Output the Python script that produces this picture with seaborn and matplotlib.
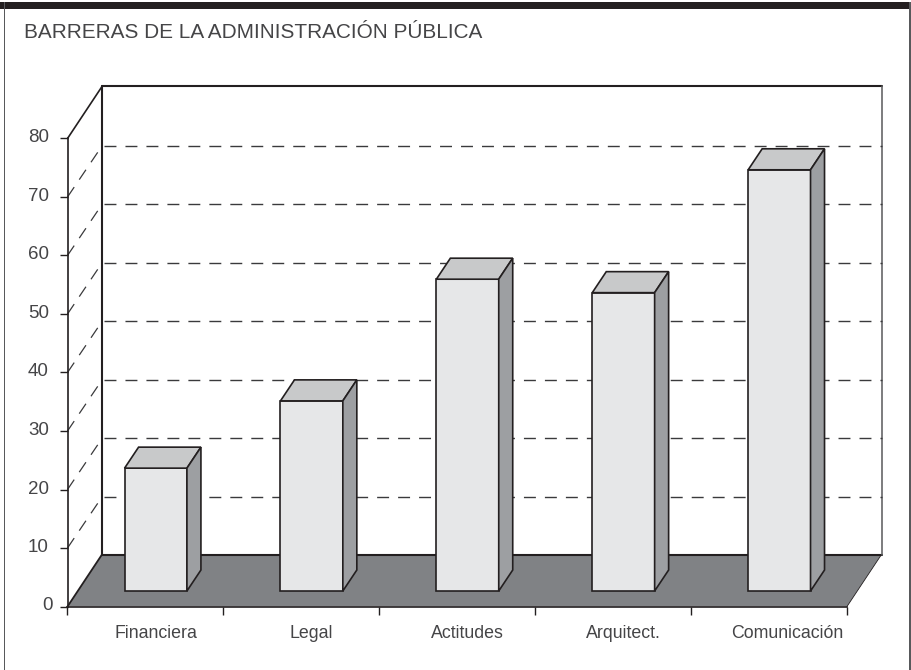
import matplotlib
matplotlib.use('Agg')
import matplotlib.pyplot as plt
import numpy as np
import pandas as pd
import seaborn as sns
from matplotlib.patches import Polygon, Rectangle
from matplotlib.transforms import ScaledTranslation

categories = ['Financiera', 'Legal', 'Actitudes', 'Arquitect.', 'Comunicación']
values = [21, 32.5, 53.3, 51, 72]
y_ticks = [0, 10, 20, 30, 40, 50, 60, 70, 80]
grid_values = [10, 20, 30, 40, 50, 60, 70]
title = 'BARRERAS DE LA ADMINISTRACIÓN PÚBLICA'

W, H = 911, 670
TEXT = '#454547'
EDGE = '#231f20'
DASH = (8.6, 6.5)

sns.set_theme(style='white')
plt.rcParams['font.family'] = ['Liberation Sans', 'DejaVu Sans']
plt.rcParams['lines.scale_dashes'] = False

fig = plt.figure(figsize=(W / 100, H / 100), dpi=100, facecolor='white')

# outer frame
fig.add_artist(Rectangle((0, 1 - 9 / H), 1, 7 / H, transform=fig.transFigure, color='#231f20', lw=0))
fig.add_artist(Rectangle((3.5 / W, 0), 1.5 / W, 1 - 2 / H, transform=fig.transFigure, color='#58595b', lw=0))
fig.add_artist(Rectangle((908.5 / W, 0), 2.5 / W, 1 - 2 / H, transform=fig.transFigure, color='#58595b', lw=0))
fig.text(24 / W, 1 - 33 / H, title, fontsize=14.95, color=TEXT, va='center', ha='left')

# front plane of the box
ax = fig.add_axes([67.5 / W, 1 - 606.5 / H, 779.5 / W, 468 / H])
df = pd.DataFrame({'cat': categories, 'val': values})
sns.barplot(data=df, x='cat', y='val', ax=ax, width=0.4, color='#e6e7e8', saturation=1,
            edgecolor=EDGE, linewidth=1.2, zorder=5)
ax.set_xlim(-0.5, 4.5)
ax.set_ylim(0, 80)
ax.patch.set_visible(False)
ax.set_xlabel('')
ax.set_ylabel('')

# depth of the box and of the bars, in data units
px_x = 5 / 779.5
px_y = 80 / 468
dx, dy = 34.5 * px_x, 52 * px_y
grid_dy = 51 * px_y
bar_dx, bar_dy = 14 * px_x, 21 * px_y
shift_x, shift_y = 10.3 * px_x, 15.5 * px_y

# floor and walls
ax.add_patch(Polygon([(-0.5, 0), (4.5, 0), (4.5 + dx, dy), (-0.5 + dx, dy)], closed=True,
                     facecolor='#808285', edgecolor='none', clip_on=False, zorder=1))
ax.plot([-0.5, -0.5 + dx], [0, dy], color=EDGE, lw=1.3, clip_on=False, zorder=2)
ax.plot([4.5, 4.5 + dx], [0, dy], color=EDGE, lw=0.6, clip_on=False, zorder=2)
ax.plot([-0.5 + dx, 4.5 + dx], [dy, dy], color=EDGE, lw=1.5, clip_on=False, zorder=2)
ax.plot([-0.5, -0.5 + dx], [80, 80 + dy], color=EDGE, lw=1.2, clip_on=False, zorder=2)
ax.plot([-0.5 + dx, 4.5 + dx], [80 + dy, 80 + dy], color=EDGE, lw=1.5, clip_on=False, zorder=2)
ax.plot([-0.5 + dx, -0.5 + dx], [dy, 80 + dy], color=EDGE, lw=1.5, clip_on=False, zorder=2)
ax.plot([4.5 + dx, 4.5 + dx], [dy, 80 + dy], color='#58595b', lw=1.1, clip_on=False, zorder=2)

# dashed grid on back and side walls
for g in grid_values:
    ax.plot([-0.5 + dx + 2 * px_x, 4.5 + dx], [g + grid_dy, g + grid_dy], color='#3a3a3c', lw=1.0,
            dashes=DASH, clip_on=False, zorder=3)
    ax.plot([-0.5, -0.5 + dx], [g, g + grid_dy], color='#3a3a3c', lw=0.9,
            dashes=DASH, clip_on=False, zorder=3)

# move front faces onto the floor, add top and side faces
for bar in list(ax.patches):
    if not isinstance(bar, Rectangle):
        continue
    bar.set_x(bar.get_x() + shift_x)
    bar.set_y(bar.get_y() + shift_y)
    bar.set_clip_on(False)
    x0, x1 = bar.get_x(), bar.get_x() + bar.get_width()
    y0, y1 = bar.get_y(), bar.get_y() + bar.get_height()
    ax.add_patch(Polygon([(x0, y1), (x1, y1), (x1 + bar_dx, y1 + bar_dy), (x0 + bar_dx, y1 + bar_dy)],
                         closed=True, facecolor='#c8c9ca', edgecolor=EDGE, lw=1.2, clip_on=False, zorder=5))
    ax.add_patch(Polygon([(x1, y0), (x1 + bar_dx, y0 + bar_dy), (x1 + bar_dx, y1 + bar_dy), (x1, y1)],
                         closed=True, facecolor='#9d9fa2', edgecolor=EDGE, lw=1.2, clip_on=False, zorder=5))

# axes, ticks and labels
sns.despine(ax=ax)
for side in ['left', 'bottom']:
    ax.spines[side].set_color(EDGE)
    ax.spines[side].set_linewidth(1.2)
    ax.spines[side].set_zorder(4)
ax.set_yticks(y_ticks)
ax.tick_params(axis='y', length=5.5, width=1.0, color=EDGE, labelsize=13.5, labelcolor=TEXT, pad=8, left=True)
ax.set_xticks(np.arange(-0.5, 5, 1))
ax.set_xticklabels([])
ax.tick_params(axis='x', which='major', length=6, width=1.0, color=EDGE, bottom=True)
ax.set_xticks(np.arange(5) + shift_x + np.array([0, 0, 0, 0, 0.05]), labels=categories, minor=True)
ax.tick_params(axis='x', which='minor', length=0, labelsize=12.8, labelcolor=TEXT, pad=13.5, bottom=False)

# y labels sit a little above their ticks, the zero closer to the axis
for i, label in enumerate(ax.get_yticklabels()):
    off_x = 4 / 100 if i == 0 else 0
    label.set_transform(label.get_transform() + ScaledTranslation(off_x, 2.5 / 100, fig.dpi_scale_trans))

fig.savefig('out.png', dpi=100)
